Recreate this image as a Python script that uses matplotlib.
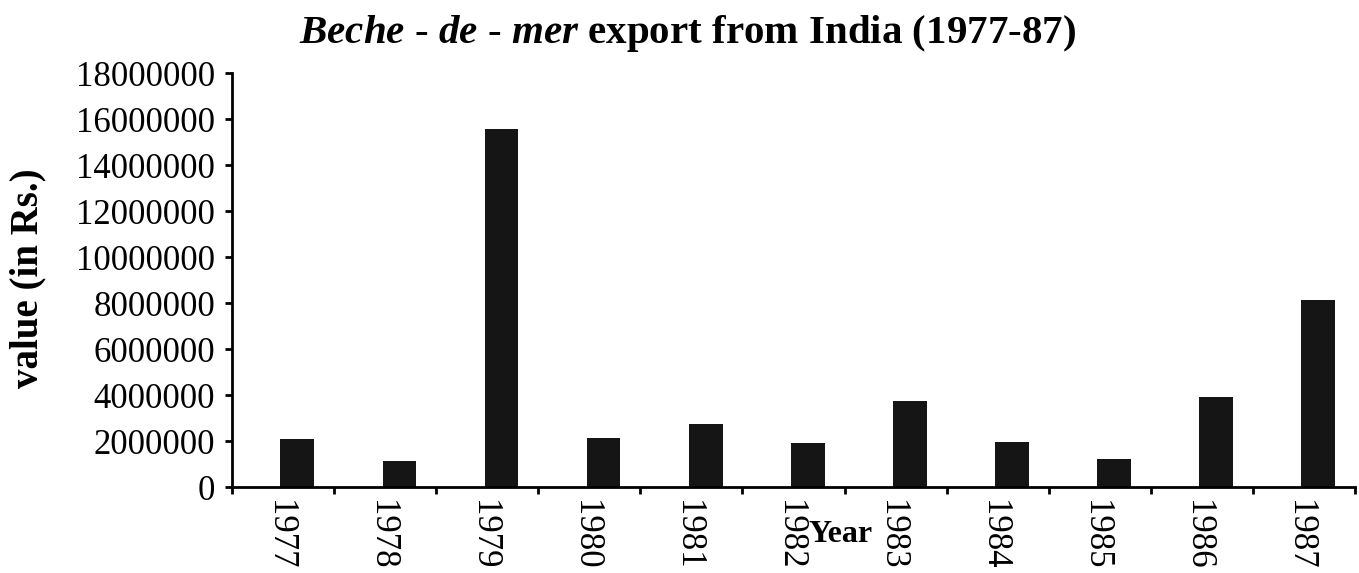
import matplotlib
matplotlib.use("Agg")
import matplotlib.pyplot as plt
import matplotlib.transforms as mtransforms
from matplotlib.ticker import FixedLocator, FuncFormatter
import numpy as np

years = ["1977", "1978", "1979", "1980", "1981", "1982", "1983", "1984", "1985", "1986", "1987"]
values = [2080000, 1130000, 15550000, 2130000, 2720000, 1900000, 3750000, 1950000, 1230000, 3900000, 8150000]
yticks = [0, 2000000, 4000000, 6000000, 8000000, 10000000, 12000000, 14000000, 16000000, 18000000]

plt.rcParams['font.family'] = ['Liberation Serif', 'DejaVu Serif']
plt.rcParams['mathtext.fontset'] = 'custom'
plt.rcParams['mathtext.it'] = 'Liberation Serif:italic:bold'
plt.rcParams['mathtext.rm'] = 'Liberation Serif:bold'

W, H = 1359, 573
fig = plt.figure(figsize=(W / 100, H / 100), dpi=100)
ax = fig.add_axes([232 / W, 1 - 487 / H, (1355 - 232) / W, (487 - 73) / H])

x = np.arange(len(years))
ax.bar(x + 0.14, values, width=0.33, color='#151515', edgecolor='none')

ax.set_xlim(-0.5, len(years) - 0.5)
ax.set_ylim(0, 18000000)

for s in ['top', 'right']:
    ax.spines[s].set_visible(False)
for s in ['left', 'bottom']:
    ax.spines[s].set_linewidth(2.0)
    ax.spines[s].set_color('black')

ax.set_yticks(yticks)
ax.yaxis.set_major_formatter(FuncFormatter(lambda v, p: f"{int(v)}"))
ax.tick_params(axis='y', direction='out', length=5, width=2, pad=7, labelsize=25)

ax.set_xticks(x)
ax.set_xticklabels(years, rotation=-90, fontsize=25)
ax.xaxis.set_minor_locator(FixedLocator(np.arange(-0.5, len(years), 1.0)))
ax.tick_params(axis='x', which='major', length=0, pad=9)
ax.tick_params(axis='x', which='minor', direction='out', length=5, width=2)

shift = mtransforms.ScaledTranslation(-4 / 100, 0, fig.dpi_scale_trans)
for lbl in ax.get_xticklabels():
    lbl.set_transform(lbl.get_transform() + shift)

fig.text(841 / W, 1 - 535 / H, "Year", fontsize=23, fontweight='bold', ha='center', va='center')
fig.text(28 / W, 1 - 278 / H, "value (in Rs.)", fontsize=28, fontweight='bold',
         rotation=90, ha='center', va='center')
fig.text(688 / W, 1 - 33 / H,
         r"$Beche$ - $de$ - $mer$ export from India (1977-87)",
         fontsize=29.5, fontweight='bold', ha='center', va='center')

fig.savefig("out.png", dpi=100, facecolor='white')
